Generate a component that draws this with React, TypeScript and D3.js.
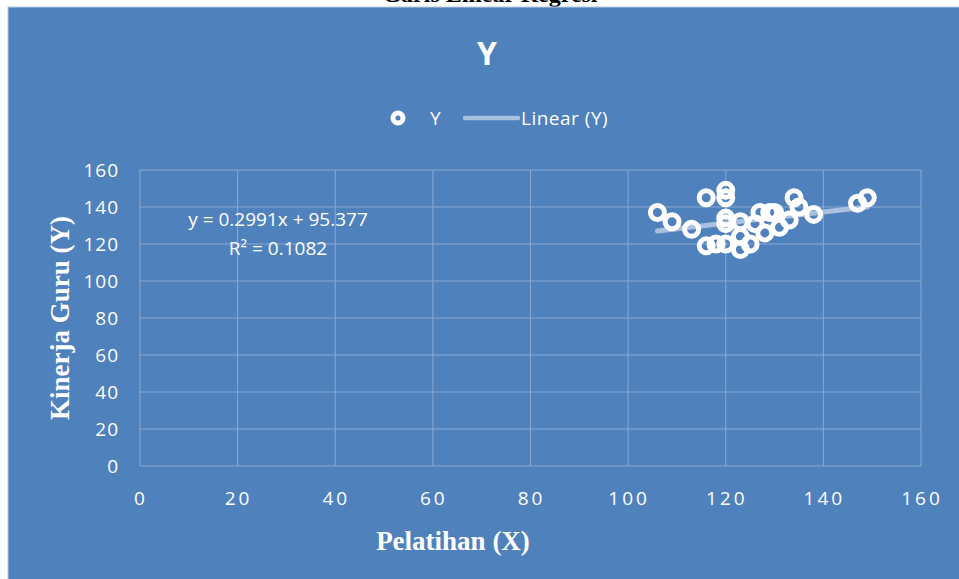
import React, { useEffect, useRef } from 'react'
import * as d3 from 'd3'

// scatter data: Pelatihan (X) vs Kinerja Guru (Y)
const pelatihanX = [106, 109, 113, 116, 116, 118, 120, 120, 120, 120, 120, 123, 123, 123, 125, 126, 127, 128, 129, 130, 131, 133, 134, 135, 138, 147, 149]
const kinerjaY = [137, 132, 128, 145, 119, 120, 149, 145, 134, 131, 120, 132, 124, 117, 120, 131, 137, 126, 137, 137, 129, 133, 145, 140, 136, 142, 145]

const slope = 0.2991
const intercept = 95.377
const rSquared = 0.1082

const xTicks = [0, 20, 40, 60, 80, 100, 120, 140, 160]
const yTicks = [0, 20, 40, 60, 80, 100, 120, 140, 160]

const W = 959
const H = 579
const BLUE = '#4F81BD'
const GRID = '#8AA8D2'
const SANS = '"Open Sans", Lato, sans-serif'
const SERIF = '"Liberation Serif", "Times New Roman", serif'

export default function App() {
  const svgRef = useRef<SVGSVGElement>(null)

  useEffect(() => {
    document.body.style.margin = '0'
    const svg = d3.select(svgRef.current)
    svg.selectAll('*').remove()

    const left = 140, right = 921, top = 170, bottom = 466
    const x = d3.scaleLinear().domain([0, 160]).range([left, right])
    const y = d3.scaleLinear().domain([0, 160]).range([bottom, top])

    svg.append('rect').attr('width', W).attr('height', H).attr('fill', '#fff')

    // caption above the chart box, cut off at the top of the page as in the source
    svg.append('text')
      .attr('x', 490).attr('y', 1.5)
      .attr('text-anchor', 'middle')
      .style('font-family', SERIF).style('font-weight', 700).style('font-size', '24px')
      .attr('fill', '#000')
      .text('Garis Linear Regresi')

    svg.append('rect')
      .attr('x', 8).attr('y', 7).attr('width', W).attr('height', H)
      .attr('fill', BLUE).attr('stroke', '#B9C9DE').attr('stroke-width', 1)

    // title
    svg.append('text')
      .attr('x', 487).attr('y', 65)
      .attr('text-anchor', 'middle')
      .style('font-family', SANS).style('font-weight', 700).style('font-size', '32px')
      .attr('fill', '#fff')
      .text('Y')

    // legend
    const lg = svg.append('g')
    lg.append('circle').attr('cx', 398).attr('cy', 118).attr('r', 5)
      .attr('fill', 'none').attr('stroke', '#fff').attr('stroke-width', 5)
    lg.append('text').attr('x', 430).attr('y', 125)
      .style('font-family', SANS).style('font-size', '19px').attr('fill', '#fff').text('Y')
    lg.append('line').attr('x1', 465).attr('x2', 518).attr('y1', 118).attr('y2', 118)
      .attr('stroke', '#A9C0DF').attr('stroke-width', 4.5).attr('stroke-linecap', 'round')
    lg.append('text').attr('x', 521).attr('y', 125)
      .style('font-family', SANS).style('font-size', '19px').style('letter-spacing', '0.5px')
      .attr('fill', '#fff').text('Linear (Y)')

    // grid
    const grid = svg.append('g').attr('stroke', GRID).attr('stroke-width', 1)
    xTicks.forEach(t => {
      grid.append('line').attr('x1', x(t)).attr('x2', x(t)).attr('y1', top).attr('y2', bottom)
    })
    yTicks.forEach(t => {
      grid.append('line').attr('x1', left).attr('x2', right).attr('y1', y(t)).attr('y2', y(t))
    })

    // tick labels
    svg.append('g').selectAll('text').data(yTicks).join('text')
      .attr('x', 119).attr('y', d => y(d) + 7)
      .attr('text-anchor', 'end')
      .style('font-family', SANS).style('font-size', '19px').style('letter-spacing', '1px')
      .attr('fill', '#fff')
      .text(d => d)
    svg.append('g').selectAll('text').data(xTicks).join('text')
      .attr('x', d => x(d) + 1).attr('y', 505)
      .attr('text-anchor', 'middle')
      .style('font-family', SANS).style('font-size', '19px').style('letter-spacing', '3px')
      .attr('fill', '#fff')
      .text(d => d)

    // axis titles
    svg.append('text')
      .attr('transform', `translate(69, ${(top + bottom) / 2}) rotate(-90)`)
      .attr('text-anchor', 'middle')
      .style('font-family', SERIF).style('font-weight', 700).style('font-size', '27px')
      .attr('fill', '#fff')
      .text('Kinerja Guru (Y)')
    svg.append('text')
      .attr('x', 453).attr('y', 550)
      .attr('text-anchor', 'middle')
      .style('font-family', SERIF).style('font-weight', 700).style('font-size', '27px')
      .attr('fill', '#fff')
      .text('Pelatihan (X)')

    // trendline
    const [xmin, xmax] = d3.extent(pelatihanX) as [number, number]
    const line = d3.line<number>().x(d => x(d)).y(d => y(slope * d + intercept))
    svg.append('path')
      .attr('d', line([xmin, xmax]))
      .attr('fill', 'none').attr('stroke', '#A9C0DF').attr('stroke-width', 5)
      .attr('stroke-linecap', 'round')

    // points
    svg.append('g').selectAll('circle').data(pelatihanX).join('circle')
      .attr('cx', d => x(d)).attr('cy', (_, i) => y(kinerjaY[i]))
      .attr('r', 7)
      .attr('fill', 'none').attr('stroke', '#fff').attr('stroke-width', 5)

    // equation label
    const eq = svg.append('g')
      .style('font-family', SANS).style('font-size', '19px').attr('fill', '#fff')
      .attr('text-anchor', 'middle')
    eq.append('text').attr('x', 278).attr('y', 226)
      .text(`y = ${slope}x + ${intercept}`)
    eq.append('text').attr('x', 278).attr('y', 255)
      .text(`R² = ${rSquared}`)
  }, [])

  return <svg ref={svgRef} width={W} height={H} style={{ display: 'block' }} />
}
